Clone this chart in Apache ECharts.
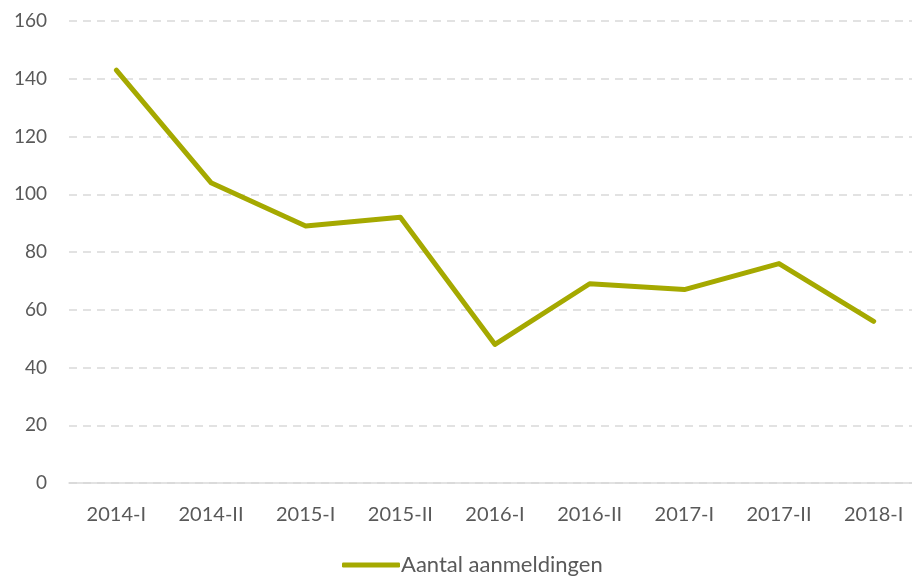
<!DOCTYPE html>
<html>
<head>
<meta charset="utf-8">
<script src="https://cdn.jsdelivr.net/npm/echarts@6/dist/echarts.min.js"></script>
<style>
  html, body { margin: 0; padding: 0; background: #fff; overflow: hidden; }
  #chart { width: 921px; height: 578px; }
</style>
</head>
<body>
<div id="chart"></div>
<script>
const periods = ['2014-I', '2014-II', '2015-I', '2015-II', '2016-I', '2016-II', '2017-I', '2017-II', '2018-I'];
const aanmeldingen = [143, 104, 89, 92, 48, 69, 67, 76, 56];

const myChart = echarts.init(document.getElementById('chart'));
const font = 'Lato, "Open Sans", sans-serif';

myChart.setOption({
  animation: false,
  textStyle: { fontFamily: font },
  grid: { left: 69, right: 0, top: 21, bottom: 95, containLabel: false },
  xAxis: {
    type: 'category',
    data: periods,
    boundaryGap: true,
    axisLine: { lineStyle: { color: '#d9d9d9', width: 1.5 } },
    axisTick: { show: false },
    axisLabel: { color: '#595959', fontSize: 20, margin: 22, fontFamily: font }
  },
  yAxis: {
    type: 'value',
    min: 0,
    max: 160,
    interval: 20,
    axisLine: { show: false },
    axisTick: { show: false },
    axisLabel: { color: '#595959', fontSize: 19, margin: 22, fontFamily: font },
    splitLine: { lineStyle: { color: '#d9d9d9', type: [8, 6], width: 1.5 } }
  },
  legend: {
    top: 554,
    left: 342,
    padding: 0,
    itemWidth: 58,
    itemHeight: 5,
    itemGap: 10,
    icon: 'roundRect',
    textStyle: { color: '#595959', fontSize: 22, fontFamily: font, padding: [0, 0, 0, -4] },
    data: ['Aantal aanmeldingen']
  },
  series: [{
    name: 'Aantal aanmeldingen',
    type: 'line',
    data: aanmeldingen,
    symbol: 'none',
    lineStyle: { color: '#a5a900', width: 5, cap: 'round', join: 'round' },
    itemStyle: { color: '#a5a900' }
  }]
});
</script>
</body>
</html>
